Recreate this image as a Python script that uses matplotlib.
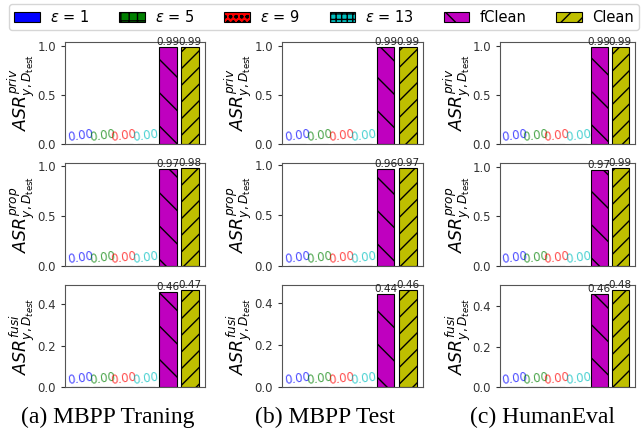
import matplotlib
matplotlib.use("Agg")
import matplotlib.pyplot as plt
import numpy as np
from matplotlib.patches import Patch

categories = ["$\\epsilon$ = 1", "$\\epsilon$ = 5", "$\\epsilon$ = 9", "$\\epsilon$ = 13", "fClean", "Clean"]
colors = ["b", "g", "r", "c", "m", "y"]
hatches = ["", "++", "ooo", "+++", "\\", "//"]

datasets = ["(a) MBPP Traning", "(b) MBPP Test", "(c) HumanEval"]
metrics = ["$ASR^{priv}_{y,D_{\\rm test}}$", "$ASR^{prop}_{y,D_{\\rm test}}$", "$ASR^{fusi}_{y,D_{test}}$"]

# values[metric][dataset] -> 6 bars
priv_vals = [[0.00, 0.00, 0.00, 0.00, 0.99, 0.99],
             [0.00, 0.00, 0.00, 0.00, 0.99, 0.99],
             [0.00, 0.00, 0.00, 0.00, 0.99, 0.99]]
prop_vals = [[0.00, 0.00, 0.00, 0.00, 0.97, 0.98],
             [0.00, 0.00, 0.00, 0.00, 0.96, 0.97],
             [0.00, 0.00, 0.00, 0.00, 0.97, 0.99]]
fusi_vals = [[0.00, 0.00, 0.00, 0.00, 0.46, 0.47],
             [0.00, 0.00, 0.00, 0.00, 0.44, 0.46],
             [0.00, 0.00, 0.00, 0.00, 0.46, 0.48]]
all_vals = [priv_vals, prop_vals, fusi_vals]

W, H = 642, 445
fig = plt.figure(figsize=(W / 100, H / 100), dpi=100)

col_px = [(65, 205), (282, 423), (500, 635)]
row_px = [(42, 144), (163, 266), (285, 387)]
yticks_rows = [[0.0, 0.5, 1.0], [0.0, 0.5, 1.0], [0.0, 0.2, 0.4]]

x = np.arange(len(categories))
for r in range(3):
    for c in range(3):
        l, rr = col_px[c]
        t, b = row_px[r]
        ax = fig.add_axes([l / W, 1 - b / H, (rr - l) / W, (b - t) / H])
        vals = all_vals[r][c]
        for i in range(len(categories)):
            ax.bar(x[i], vals[i], width=0.8, color=colors[i], edgecolor="black",
                   hatch=hatches[i], linewidth=0.8)
        for i in range(len(categories)):
            if vals[i] == 0:
                ax.text(x[i], 0, f"{vals[i]:.2f}", ha="center", va="bottom",
                        rotation=8, color=colors[i], alpha=0.7, fontsize=8.5)
            else:
                ax.text(x[i], vals[i], f"{vals[i]:.2f}", ha="center", va="bottom",
                        color="#222222", fontsize=7.5)
        ax.set_xticks([])
        ax.set_yticks(yticks_rows[r])
        ax.tick_params(axis="y", labelsize=8.5, colors="#333333", length=3)
        for s in ax.spines.values():
            s.set_color("#555555")
        ax.set_ylabel(metrics[r], fontsize=12.5)
        ax.yaxis.set_label_coords(-0.2, 0.5)

caption_x = [108, 325, 543]
for c in range(3):
    fig.text(caption_x[c] / W, 1 - 417 / H, datasets[c], ha="center", va="center",
             fontsize=17, family="Liberation Serif")

handles = [Patch(facecolor=colors[i], edgecolor="black", hatch=hatches[i], linewidth=0.8)
           for i in range(len(categories))]
fig.legend(handles, categories, loc="upper center", ncol=6, fontsize=10.5,
           bbox_to_anchor=(324 / W, 1.0), borderaxespad=0.25, columnspacing=2.05,
           handletextpad=0.7, handlelength=1.75, frameon=True, fancybox=True,
           edgecolor="#cccccc", borderpad=0.35)

fig.savefig("out.png", dpi=100)
